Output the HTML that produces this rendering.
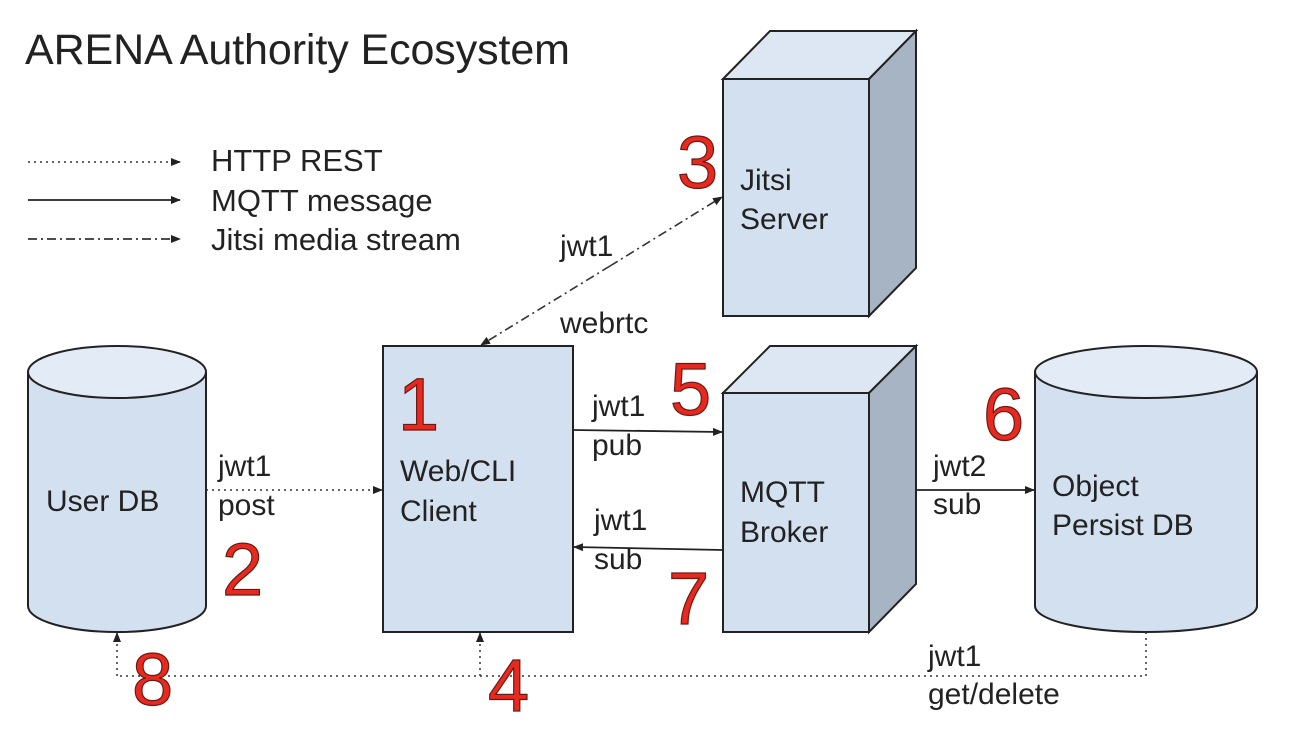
<!DOCTYPE html>
<html><head><meta charset="utf-8"><style>
html,body{margin:0;padding:0;background:#fff;width:1302px;height:756px;overflow:hidden}
svg text{font-family:"Liberation Sans",sans-serif;fill:#222}
.lbl{font-size:30px}
.lg{font-size:31px}
.num{font-size:74px;fill:#e8291f;stroke:#6a1a14;stroke-width:1.2}
</style></head><body>
<svg width="1302" height="756" viewBox="0 0 1302 756" xmlns="http://www.w3.org/2000/svg">
<defs>
<marker id="ah" markerWidth="10" markerHeight="8" refX="9" refY="4" orient="auto" markerUnits="userSpaceOnUse">
<path d="M0,0 L10,4 L0,8 z" fill="#222"/></marker>
</defs>
<text x="25" y="64" style="font-size:43px" textLength="545">ARENA Authority Ecosystem</text>
<!-- legend -->
<line x1="28" y1="162" x2="180" y2="162" stroke="#333" stroke-width="1.5" stroke-dasharray="2,4" marker-end="url(#ah)"/>
<line x1="28" y1="200" x2="180" y2="200" stroke="#222" stroke-width="1.8" marker-end="url(#ah)"/>
<line x1="28" y1="239" x2="180" y2="239" stroke="#333" stroke-width="1.8" stroke-dasharray="9,4,2,4" marker-end="url(#ah)"/>
<text x="211" y="171" class="lg">HTTP REST</text>
<text x="211" y="211" class="lg">MQTT message</text>
<text x="211" y="250" class="lg">Jitsi media stream</text>

<!-- Jitsi server -->
<polygon points="723,79 770,31 916,31 869,79" fill="#dde7f3" stroke="#222" stroke-width="2"/>
<polygon points="869,79 916,31 916,268 869,316" fill="#a6b4c4" stroke="#222" stroke-width="2"/>
<rect x="723" y="79" width="146" height="237" fill="#d3e0f0" stroke="#222" stroke-width="2"/>
<text x="740" y="190" class="lbl">Jitsi</text>
<text x="740" y="229" class="lbl">Server</text>

<!-- MQTT broker -->
<polygon points="723,393 770,346 916,346 869,393" fill="#dde7f3" stroke="#222" stroke-width="2"/>
<polygon points="869,393 916,346 916,584 869,632" fill="#a6b4c4" stroke="#222" stroke-width="2"/>
<rect x="723" y="393" width="146" height="239" fill="#d3e0f0" stroke="#222" stroke-width="2"/>
<text x="740" y="502" class="lbl">MQTT</text>
<text x="740" y="542" class="lbl">Broker</text>

<!-- Client -->
<rect x="383" y="346" width="190" height="286" fill="#d3e0f0" stroke="#222" stroke-width="2"/>
<text x="400" y="481" class="lbl">Web/CLI</text>
<text x="400" y="521" class="lbl">Client</text>

<!-- User DB -->
<path d="M28,372 L28,606 A89,26 0 0 0 206,606 L206,372" fill="#d3e0f0" stroke="#222" stroke-width="2"/>
<ellipse cx="117" cy="372" rx="89" ry="26" fill="#e3ebf6" stroke="#222" stroke-width="2"/>
<text x="46" y="511" class="lbl">User DB</text>

<!-- Object DB -->
<path d="M1035,372 L1035,606 A111,26 0 0 0 1257,606 L1257,372" fill="#d3e0f0" stroke="#222" stroke-width="2"/>
<ellipse cx="1146" cy="372" rx="111" ry="26" fill="#e3ebf6" stroke="#222" stroke-width="2"/>
<text x="1052" y="496" class="lbl">Object</text>
<text x="1052" y="535" class="lbl">Persist DB</text>

<!-- connectors -->
<line x1="206" y1="490" x2="382" y2="490" stroke="#333" stroke-width="1.5" stroke-dasharray="2,4" marker-end="url(#ah)"/>
<text x="218" y="476" class="lbl">jwt1</text>
<text x="218" y="515" class="lbl">post</text>

<line x1="610" y1="266" x2="722" y2="197" stroke="#333" stroke-width="1.6" stroke-dasharray="9,4,2,4" marker-end="url(#ah)"/>
<line x1="610" y1="266" x2="481" y2="345" stroke="#333" stroke-width="1.6" stroke-dasharray="9,4,2,4" marker-end="url(#ah)"/>
<text x="560" y="256" class="lbl">jwt1</text>
<text x="560" y="333" class="lbl">webrtc</text>

<line x1="573" y1="430" x2="722" y2="432" stroke="#222" stroke-width="1.8" marker-end="url(#ah)"/>
<text x="592" y="416" class="lbl">jwt1</text>
<text x="592" y="455" class="lbl">pub</text>

<line x1="723" y1="550" x2="574" y2="547" stroke="#222" stroke-width="1.8" marker-end="url(#ah)"/>
<text x="594" y="530" class="lbl">jwt1</text>
<text x="594" y="569" class="lbl">sub</text>

<line x1="916" y1="490" x2="1034" y2="490" stroke="#222" stroke-width="1.8" marker-end="url(#ah)"/>
<text x="933" y="476" class="lbl">jwt2</text>
<text x="933" y="514" class="lbl">sub</text>

<polyline points="1146,632 1146,676 117,676" fill="none" stroke="#333" stroke-width="1.5" stroke-dasharray="2,4"/>
<line x1="117" y1="676" x2="117" y2="633" stroke="#333" stroke-width="1.5" stroke-dasharray="2,4" marker-end="url(#ah)"/>
<line x1="480" y1="676" x2="480" y2="633" stroke="#333" stroke-width="1.5" stroke-dasharray="2,4" marker-end="url(#ah)"/>
<text x="928" y="666" class="lbl">jwt1</text>
<text x="928" y="704" class="lbl">get/delete</text>

<!-- numbers -->
<text x="398" y="430" class="num">1</text>
<text x="222" y="595" class="num">2</text>
<text x="677" y="188" class="num">3</text>
<text x="488" y="711" class="num">4</text>
<text x="670" y="415" class="num">5</text>
<text x="983" y="440" class="num">6</text>
<text x="668" y="624" class="num">7</text>
<text x="132" y="705" class="num">8</text>
</svg>
</body></html>
